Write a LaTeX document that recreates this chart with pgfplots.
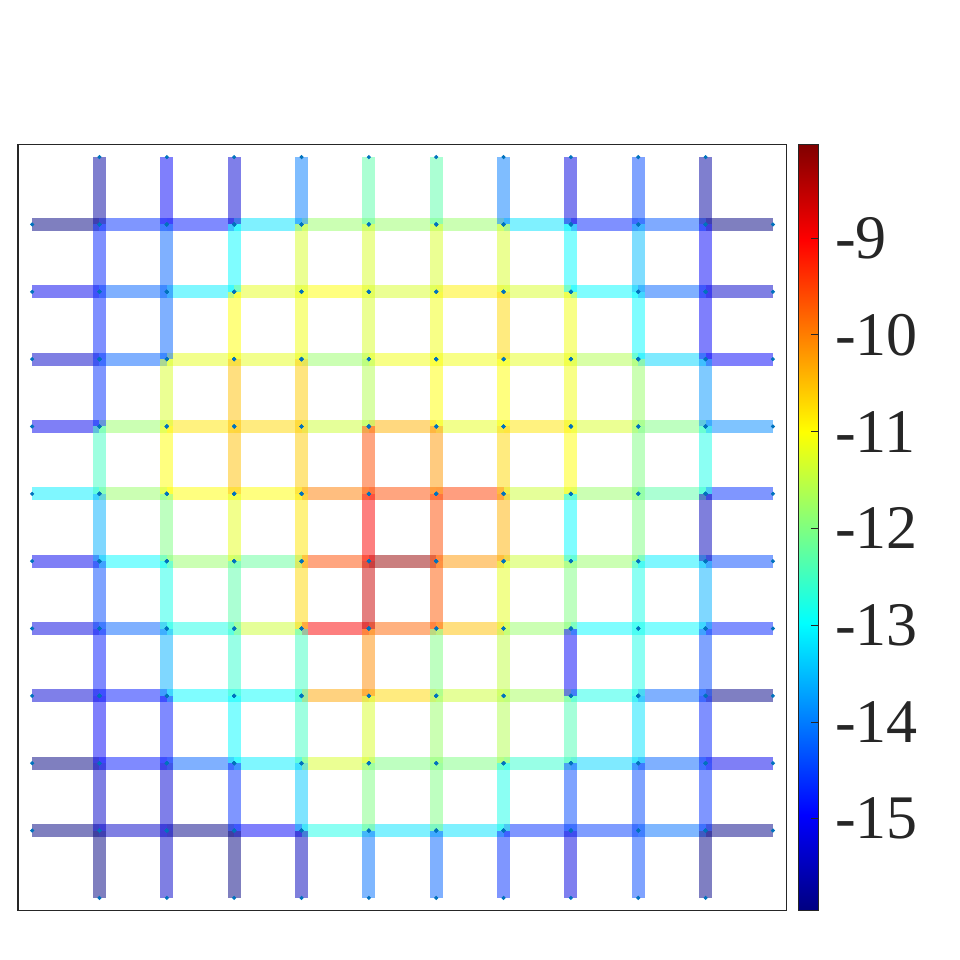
\documentclass[border=0pt]{standalone}
\usepackage{fontspec}
\setmainfont{Liberation Serif}
\usepackage{pgfplots}
\usepackage{pgfplotstable}
\pgfplotsset{compat=1.18}
\definecolor{dotblue}{rgb}{0,0.447,0.741}
\definecolor{axgray}{rgb}{0.15,0.15,0.15}

% edges of the grid: start point (x,y), direction (u,v), value c
\pgfplotstableread[row sep=\\]{
x y u v c\\
0 1 1 0 -15.95\\ 1 1 1 0 -15.4\\ 2 1 1 0 -15.9\\ 3 1 1 0 -15.0\\ 4 1 1 0 -12.8\\ 5 1 1 0 -13.2\\ 6 1 1 0 -13.2\\ 7 1 1 0 -14.6\\ 8 1 1 0 -14.5\\ 9 1 1 0 -14.1\\ 10 1 1 0 -15.9\\
0 2 1 0 -15.95\\ 1 2 1 0 -14.8\\ 2 2 1 0 -14.2\\ 3 2 1 0 -13.1\\ 4 2 1 0 -11.3\\ 5 2 1 0 -12.0\\ 6 2 1 0 -12.0\\ 7 2 1 0 -12.6\\ 8 2 1 0 -13.3\\ 9 2 1 0 -14.2\\ 10 2 1 0 -15.1\\
0 3 1 0 -15.3\\ 1 3 1 0 -14.8\\ 2 3 1 0 -13.0\\ 3 3 1 0 -12.95\\ 4 3 1 0 -10.3\\ 5 3 1 0 -10.7\\ 6 3 1 0 -11.4\\ 7 3 1 0 -11.7\\ 8 3 1 0 -12.8\\ 9 3 1 0 -14.2\\ 10 3 1 0 -15.9\\
0 4 1 0 -15.2\\ 1 4 1 0 -14.2\\ 2 4 1 0 -12.8\\ 3 4 1 0 -11.4\\ 4 4 1 0 -9.0\\ 5 4 1 0 -9.8\\ 6 4 1 0 -10.5\\ 7 4 1 0 -11.8\\ 8 4 1 0 -13.0\\ 9 4 1 0 -13.0\\ 10 4 1 0 -14.7\\
0 5 1 0 -15.1\\ 1 5 1 0 -13.0\\ 2 5 1 0 -11.8\\ 3 5 1 0 -12.2\\ 4 5 1 0 -9.6\\ 5 5 1 0 -8.2\\ 6 5 1 0 -10.2\\ 7 5 1 0 -11.4\\ 8 5 1 0 -11.8\\ 9 5 1 0 -13.1\\ 10 5 1 0 -14.4\\
0 6 1 0 -13.1\\ 1 6 1 0 -11.8\\ 2 6 1 0 -11.0\\ 3 6 1 0 -11.0\\ 4 6 1 0 -10.0\\ 5 6 1 0 -9.6\\ 6 6 1 0 -9.5\\ 7 6 1 0 -11.4\\ 8 6 1 0 -11.8\\ 9 6 1 0 -12.3\\ 10 6 1 0 -14.6\\
0 7 1 0 -15.1\\ 1 7 1 0 -11.8\\ 2 7 1 0 -10.8\\ 3 7 1 0 -10.7\\ 4 7 1 0 -11.4\\ 5 7 1 0 -10.4\\ 6 7 1 0 -11.2\\ 7 7 1 0 -10.8\\ 8 7 1 0 -11.3\\ 9 7 1 0 -12.0\\ 10 7 1 0 -13.9\\
0 8 1 0 -15.4\\ 1 8 1 0 -14.2\\ 2 8 1 0 -11.2\\ 3 8 1 0 -11.2\\ 4 8 1 0 -11.8\\ 5 8 1 0 -11.1\\ 6 8 1 0 -11.1\\ 7 8 1 0 -11.2\\ 8 8 1 0 -11.6\\ 9 8 1 0 -13.3\\ 10 8 1 0 -15.0\\
0 9 1 0 -15.1\\ 1 9 1 0 -14.2\\ 2 9 1 0 -13.1\\ 3 9 1 0 -11.2\\ 4 9 1 0 -11.0\\ 5 9 1 0 -11.3\\ 6 9 1 0 -10.9\\ 7 9 1 0 -11.3\\ 8 9 1 0 -13.0\\ 9 9 1 0 -14.2\\ 10 9 1 0 -15.4\\
0 10 1 0 -15.95\\ 1 10 1 0 -14.6\\ 2 10 1 0 -14.8\\ 3 10 1 0 -13.2\\ 4 10 1 0 -11.8\\ 5 10 1 0 -11.8\\ 6 10 1 0 -11.8\\ 7 10 1 0 -13.2\\ 8 10 1 0 -14.7\\ 9 10 1 0 -14.3\\ 10 10 1 0 -15.95\\
1 0 0 1 -15.95\\ 1 1 0 1 -15.4\\ 1 2 0 1 -15.0\\ 1 3 0 1 -14.8\\ 1 4 0 1 -14.4\\ 1 5 0 1 -13.6\\ 1 6 0 1 -12.5\\ 1 7 0 1 -14.6\\ 1 8 0 1 -14.7\\ 1 9 0 1 -14.7\\ 1 10 0 1 -15.7\\
2 0 0 1 -15.4\\ 2 1 0 1 -15.3\\ 2 2 0 1 -14.8\\ 2 3 0 1 -13.6\\ 2 4 0 1 -12.8\\ 2 5 0 1 -12.0\\ 2 6 0 1 -11.0\\ 2 7 0 1 -11.3\\ 2 8 0 1 -14.2\\ 2 9 0 1 -14.2\\ 2 10 0 1 -15.0\\
3 0 0 1 -15.95\\ 3 1 0 1 -14.6\\ 3 2 0 1 -13.0\\ 3 3 0 1 -12.6\\ 3 4 0 1 -12.3\\ 3 5 0 1 -11.2\\ 3 6 0 1 -10.5\\ 3 7 0 1 -10.5\\ 3 8 0 1 -11.0\\ 3 9 0 1 -13.0\\ 3 10 0 1 -15.3\\
4 0 0 1 -15.5\\ 4 1 0 1 -13.4\\ 4 2 0 1 -12.5\\ 4 3 0 1 -12.5\\ 4 4 0 1 -10.7\\ 4 5 0 1 -10.8\\ 4 6 0 1 -10.6\\ 4 7 0 1 -10.6\\ 4 8 0 1 -11.1\\ 4 9 0 1 -11.3\\ 4 10 0 1 -14.0\\
5 0 0 1 -14.1\\ 5 1 0 1 -12.0\\ 5 2 0 1 -11.3\\ 5 3 0 1 -10.1\\ 5 4 0 1 -8.6\\ 5 5 0 1 -9.0\\ 5 6 0 1 -9.6\\ 5 7 0 1 -11.6\\ 5 8 0 1 -11.3\\ 5 9 0 1 -11.3\\ 5 10 0 1 -12.3\\
6 0 0 1 -14.2\\ 6 1 0 1 -12.0\\ 6 2 0 1 -11.8\\ 6 3 0 1 -12.0\\ 6 4 0 1 -9.7\\ 6 5 0 1 -9.6\\ 6 6 0 1 -10.2\\ 6 7 0 1 -11.0\\ 6 8 0 1 -11.1\\ 6 9 0 1 -11.3\\ 6 10 0 1 -12.3\\
7 0 0 1 -14.6\\ 7 1 0 1 -12.8\\ 7 2 0 1 -11.6\\ 7 3 0 1 -11.5\\ 7 4 0 1 -11.2\\ 7 5 0 1 -10.4\\ 7 6 0 1 -10.7\\ 7 7 0 1 -11.0\\ 7 8 0 1 -10.7\\ 7 9 0 1 -11.3\\ 7 10 0 1 -14.0\\
8 0 0 1 -15.2\\ 8 1 0 1 -14.4\\ 8 2 0 1 -12.4\\ 8 3 0 1 -15.0\\ 8 4 0 1 -12.0\\ 8 5 0 1 -13.0\\ 8 6 0 1 -11.0\\ 8 7 0 1 -11.1\\ 8 8 0 1 -11.1\\ 8 9 0 1 -13.0\\ 8 10 0 1 -15.2\\
9 0 0 1 -14.4\\ 9 1 0 1 -14.4\\ 9 2 0 1 -13.2\\ 9 3 0 1 -12.8\\ 9 4 0 1 -12.8\\ 9 5 0 1 -12.0\\ 9 6 0 1 -12.0\\ 9 7 0 1 -11.8\\ 9 8 0 1 -13.0\\ 9 9 0 1 -13.5\\ 9 10 0 1 -14.4\\
10 0 0 1 -15.9\\ 10 1 0 1 -14.6\\ 10 2 0 1 -14.7\\ 10 3 0 1 -14.4\\ 10 4 0 1 -13.6\\ 10 5 0 1 -15.5\\ 10 6 0 1 -12.8\\ 10 7 0 1 -13.8\\ 10 8 0 1 -15.0\\ 10 9 0 1 -15.0\\ 10 10 0 1 -15.7\\
}\edges

\begin{document}
\begin{tikzpicture}
\path[use as bounding box] (0,0) rectangle (480pt,480pt);
\begin{axis}[
    at={(9pt,24.65pt)}, anchor=south west,
    scale only axis,
    width=384.2pt, height=383.2pt,
    xmin=-0.21, xmax=11.2,
    ymin=-0.19, ymax=11.19,
    xtick=\empty, ytick=\empty,
    axis line style={axgray, line width=0.65pt},
    colormap/jet,
    point meta min=-15.95, point meta max=-8.03,
    colorbar,
    colorbar style={
        at={(parent axis.north east)}, anchor=north west,
        xshift=-2.6pt,
        width=10.2pt,
        ytick={-15,-14,-13,-12,-11,-10,-9},
        yticklabels={\textrm{-15},\textrm{-14},\textrm{-13},\textrm{-12},\textrm{-11},\textrm{-10},\textrm{-9}},
        ytick pos=right,
        yticklabel pos=right,
        tick align=inside,
        major tick length=3.8pt,
        tick style={axgray, line width=0.5pt},
        axis line style={axgray, line width=0.65pt},
        yticklabel style={font=\rmfamily\fontsize{31}{31}\selectfont, text=axgray,
            inner sep=0pt, xshift=8pt},
    },
]

% thick translucent edges
\addplot[
    quiver={u=\thisrow{u}, v=\thisrow{v}, colored},
    line width=6.6pt,
    draw opacity=0.5,
    point meta=explicit,
] table[x=x, y=y, meta=c] {\edges};

% node dots
\addplot[only marks, mark=*, mark size=0.8pt, dotblue]
    table[x=x, y=y] {\edges};
\addplot[only marks, mark=*, mark size=0.8pt, dotblue]
    table[x expr=\thisrow{x}+\thisrow{u}, y expr=\thisrow{y}+\thisrow{v}] {\edges};

\end{axis}
\end{tikzpicture}
\end{document}
